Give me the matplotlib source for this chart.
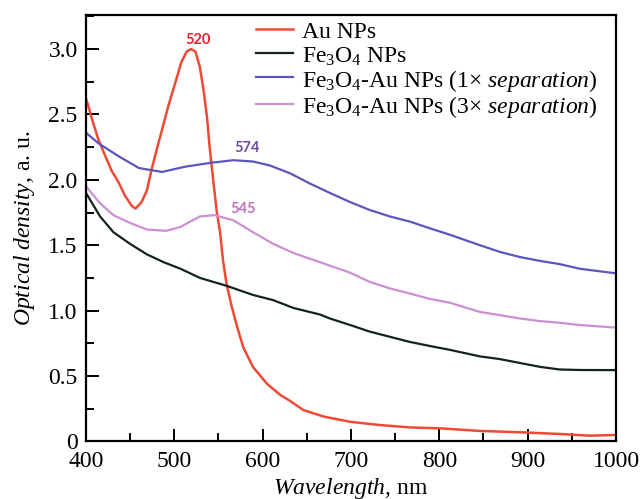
import matplotlib
matplotlib.use("Agg")
import matplotlib.pyplot as plt
from matplotlib.ticker import MultipleLocator

plt.rcParams['font.family'] = ['Liberation Serif', 'DejaVu Serif']
plt.rcParams['mathtext.fontset'] = 'custom'
plt.rcParams['mathtext.rm'] = 'Liberation Serif'
plt.rcParams['mathtext.it'] = 'Liberation Serif:italic'

# Au NPs
wl_au = [400, 402, 407, 414, 422, 429, 437, 444, 452, 456, 463, 469, 474, 480,
         486, 493, 501, 508, 514, 519, 524, 529, 533, 537, 540, 544, 548, 552,
         555, 559, 565, 571, 578, 589, 605, 620, 631, 646, 669, 699, 733, 767,
         801, 846, 891, 936, 970, 1000]
od_au = [2.62, 2.58, 2.46, 2.31, 2.18, 2.07, 1.98, 1.88, 1.80, 1.78, 1.83, 1.92,
         2.07, 2.23, 2.38, 2.56, 2.74, 2.90, 2.98, 3.00, 2.98, 2.86, 2.69, 2.48,
         2.25, 2.00, 1.76, 1.59, 1.39, 1.21, 1.03, 0.88, 0.72, 0.57, 0.44, 0.355,
         0.31, 0.24, 0.19, 0.15, 0.125, 0.107, 0.10, 0.08, 0.07, 0.057, 0.044,
         0.049]

# Fe3O4 NPs
wl_fe = [400, 416, 431, 450, 469, 488, 507, 529, 559, 589, 612, 635, 665, 676,
         699, 721, 744, 767, 789, 812, 846, 868, 891, 914, 936, 959, 1000]
od_fe = [1.90, 1.72, 1.60, 1.51, 1.43, 1.37, 1.32, 1.25, 1.19, 1.12, 1.08, 1.02,
         0.97, 0.94, 0.89, 0.84, 0.80, 0.76, 0.73, 0.70, 0.65, 0.63, 0.60, 0.57,
         0.55, 0.546, 0.545]

# Fe3O4-Au NPs, 1x separation
wl_s1 = [400, 414, 437, 460, 486, 512, 541, 567, 589, 608, 631, 654, 676, 699,
         721, 744, 767, 789, 812, 846, 868, 891, 914, 936, 959, 1000]
od_s1 = [2.36, 2.28, 2.18, 2.09, 2.06, 2.10, 2.13, 2.15, 2.14, 2.11, 2.05, 1.97,
         1.90, 1.83, 1.77, 1.72, 1.68, 1.63, 1.58, 1.50, 1.45, 1.41, 1.38, 1.356,
         1.32, 1.285]

# Fe3O4-Au NPs, 3x separation
wl_s3 = [400, 416, 431, 450, 469, 491, 507, 529, 546, 567, 589, 612, 635, 665,
         699, 721, 744, 767, 789, 812, 846, 868, 891, 914, 936, 959, 1000]
od_s3 = [1.95, 1.82, 1.73, 1.67, 1.62, 1.61, 1.64, 1.72, 1.73, 1.69, 1.60, 1.51,
         1.44, 1.37, 1.29, 1.22, 1.17, 1.13, 1.09, 1.06, 0.99, 0.966, 0.94, 0.92,
         0.907, 0.89, 0.87]

labels = ['Au NPs',
          r'Fe$_3$O$_4$ NPs',
          r'Fe$_3$O$_4$-Au NPs (1$\times$ $\it{separation}$)',
          r'Fe$_3$O$_4$-Au NPs (3$\times$ $\it{separation}$)']
colors = ['#ee4a35', '#14231f', '#5c55bb', '#cc90d2']

peak_text = ['520', '574', '545']
peak_pos = [(527, 3.07), (582, 2.24), (578, 1.78)]
peak_colors = ['#e8202a', '#6a4aa8', '#c070c0']

fig = plt.figure(figsize=(6.43, 4.99), dpi=100)
ax = fig.add_axes([0.1337, 0.1154, 0.8243, 0.8545])

ax.plot(wl_au, od_au, color=colors[0], lw=1.8, label=labels[0])
ax.plot(wl_fe, od_fe, color=colors[1], lw=1.6, label=labels[1])
ax.plot(wl_s1, od_s1, color=colors[2], lw=1.6, label=labels[2])
ax.plot(wl_s3, od_s3, color=colors[3], lw=1.6, label=labels[3])

for t, (px, py), c in zip(peak_text, peak_pos, peak_colors):
    ax.text(px, py, t, color=c, fontsize=10.5, fontweight='bold',
            family=['Lato', 'DejaVu Sans'], ha='center', va='center')

ax.set_xlim(400, 1000)
ax.set_ylim(0, 3.26)
ax.set_xticks([400, 500, 600, 700, 800, 900, 1000])
ax.set_yticks([0, 0.5, 1.0, 1.5, 2.0, 2.5, 3.0])
ax.set_yticklabels(['0', '0.5', '1.0', '1.5', '2.0', '2.5', '3.0'])
ax.xaxis.set_minor_locator(MultipleLocator(50))
ax.yaxis.set_minor_locator(MultipleLocator(0.25))
ax.tick_params(which='both', direction='in', top=False, right=False,
               labelsize=17, width=1.4)
ax.tick_params(which='major', length=9)
ax.tick_params(which='minor', length=6)
ax.tick_params(axis='x', pad=7)
ax.tick_params(axis='y', pad=6)
for sp in ax.spines.values():
    sp.set_linewidth(1.6)

ax.set_xlabel(r'$\it{Wavelength}$, nm', fontsize=17, labelpad=3)
ax.set_ylabel(r'$\it{Optical\ density}$, a. u.', fontsize=17, labelpad=8)

ax.legend(loc='upper left', bbox_to_anchor=(0.398, 0.962),
          bbox_transform=fig.transFigure, frameon=False,
          fontsize=17, handlelength=1.55, handletextpad=0.4, labelspacing=0.0,
          handleheight=1.08, borderpad=0, borderaxespad=0)

fig.savefig('out.png', dpi=100)
